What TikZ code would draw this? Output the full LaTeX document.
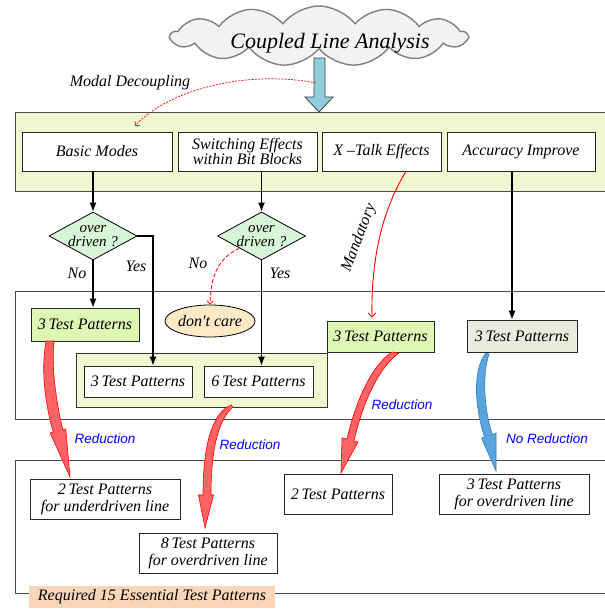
\documentclass[tikz,border=0pt]{standalone}
\usepackage{fontspec}
\setmainfont{Liberation Serif}
\newfontfamily\lsans{Liberation Sans}
\newfontfamily\rawserif{Liberation Serif}[Ligatures=ResetAll]
\usetikzlibrary{shapes.geometric,shapes.symbols,arrows.meta,calc}
\definecolor{panelgreen}{HTML}{F0F8D2}
\definecolor{boxgreen}{HTML}{DEF8B4}
\definecolor{boxgray}{HTML}{E8ECDC}
\definecolor{diagreen}{HTML}{D8F6D8}
\definecolor{careorange}{HTML}{FCEAC6}
\definecolor{peach}{HTML}{FAD6B8}
\definecolor{cloudgray}{HTML}{F3F3F3}
\definecolor{arrowblue}{HTML}{92CDDC}
\definecolor{fatred}{HTML}{FF6363}
\definecolor{fatblue}{HTML}{5AA5DE}
\definecolor{fatblueedge}{HTML}{2F7FC1}
\begin{document}
\begin{tikzpicture}[x=1pt,y=-1pt,
  txt/.style={font=\fontsize{16}{15}\selectfont\itshape},
  wbox/.style={txt, draw=black!85, line width=0.8pt, fill=white, align=center, inner sep=1pt},
  gbox/.style={wbox, fill=boxgreen},
  panel/.style={draw=black!70, line width=0.9pt},
  arr/.style={draw=black, line width=1.1pt, -{Latex[length=9pt,width=7pt]}},
  redarr/.style={draw=red, line width=0.9pt, -{Straight Barb[length=4pt,width=8pt]}},
  bluelab/.style={font=\fontsize{13.5}{14}\selectfont\lsans\itshape, text=blue},
  diam/.style={diamond, draw=black, line width=0.8pt, fill=diagreen, minimum width=88pt, minimum height=48pt, inner sep=0pt, aspect=1.83},
  fatr/.style={fill=fatred, draw=red, line width=0.6pt},
  fatb/.style={fill=fatblue, draw=fatblueedge, line width=0.6pt}
]
\useasboundingbox (0,0) rectangle (604,609);

% panels
\draw[panel, fill=panelgreen] (15,112) rectangle (620,191);
\draw[panel] (15,291) rectangle (620,419);
\draw[panel] (15,460) rectangle (620,593);
\draw[panel, fill=panelgreen, draw=black!80] (76,353) rectangle (327,407);

% big blue arrow and cloud
\draw[fill=arrowblue, draw=black!75, line width=0.8pt] (314,58) -- (325,58) -- (325,97) -- (333,97) -- (319,112) -- (305,97) -- (314,97) -- cycle;
\coordinate (md) at (316,83);
\node[cloud, cloud puffs=13, cloud puff arc=105, aspect=4.8, draw=gray, fill=cloudgray, line width=1.4pt,
  minimum width=296pt, minimum height=60pt, inner sep=0pt,
  label={[font=\fontsize{22}{24}\selectfont\itshape, xshift=11pt, yshift=-7pt]center:Coupled Line Analysis}] (cla) at (319,36) {};

\node[txt] (mdl) at (130,83) {Modal Decoupling};
\draw[red, dash pattern=on 2pt off 1.3pt, line width=0.7pt, -{Straight Barb[length=3pt,width=6pt]}] (md) .. controls (250,70) and (170,88) .. (135,126);

% top boxes
\node[wbox, minimum width=150pt, minimum height=39pt] (bm) at (97,151.5) {Basic Modes};
\node[wbox, minimum width=139pt, minimum height=39pt] (sw) at (247.5,151.5) {Switching Effects\\within Bit Blocks};
\node[wbox, minimum width=119pt, minimum height=39pt] (xt) at (381.5,151.5) {X –Talk Effects};
\node[wbox, minimum width=148pt, minimum height=39pt] (acc) at (521,151.5) {Accuracy Improve};

% diamonds
\node[diam, label={[txt, align=center, font=\fontsize{15}{14}\selectfont\itshape]center:over\\driven ?}] (d1) at (93,236) {};
\node[diam, label={[txt, align=center, font=\fontsize{15}{14}\selectfont\itshape]center:over\\driven ?}] (d2) at (261.5,236) {};

% second panel boxes
\node[gbox, minimum width=108pt, minimum height=33pt] (g1) at (85,324.5) {3\,Test Patterns};
\node[ellipse, draw=black, line width=0.8pt, fill=careorange, minimum width=81pt, minimum height=32pt, inner sep=0pt, font=\fontsize{16}{15}\selectfont\rawserif\itshape] (dc) at (210,321) {don't care};
\node[wbox, minimum width=108pt, minimum height=31pt] (b3) at (138,381.5) {3\,Test Patterns};
\node[wbox, minimum width=109pt, minimum height=31pt] (b6) at (258.5,381.5) {6\,Test Patterns};
\node[gbox, minimum width=107pt, minimum height=31pt] (g2) at (380.5,336.5) {3\,Test Patterns};
\node[wbox, fill=boxgray, minimum width=110pt, minimum height=32pt] (gy) at (522,336) {3\,Test Patterns};

% third panel boxes
\node[wbox, minimum width=150pt, minimum height=40pt, font=\fontsize{16}{17}\selectfont\itshape] (p2u) at (105,499) {2\,Test Patterns\\for underdriven line};
\node[wbox, minimum width=138pt, minimum height=40pt, font=\fontsize{16}{17}\selectfont\itshape] (p8o) at (208,553) {8\,Test Patterns\\for overdriven line};
\node[wbox, minimum width=108pt, minimum height=40pt] (p2) at (338,494) {2\,Test Patterns};
\node[wbox, minimum width=150pt, minimum height=40pt, font=\fontsize{16}{17}\selectfont\itshape] (p3o) at (514,494) {3\,Test Patterns\\for overdriven line};

\node[txt, fill=peach, minimum width=246pt, minimum height=22pt, inner sep=0pt] (req) at (152,597) {Required 15 Essential Test Patterns};

% connectors
\draw[arr] (bm.south -| d1) -- (d1.north);
\draw[arr] (sw.south -| d2) -- (d2.north);
\draw[arr] (d1.south) -- (g1.north -| d1);
\draw[arr] (d1.east) -| ([xshift=15pt]b3.north);
\draw[arr] (d2.south) -- (b6.north -| d2);
\draw[arr] ([xshift=-9pt]acc.south) -- ([xshift=-10pt]gy.north);
\draw[red, dash pattern=on 4pt off 2pt, line width=0.8pt, -{Straight Barb[length=3pt,width=6pt]}] (d2.south west) .. controls (215,260) and (211,280) .. (dc.north);
\draw[redarr] ([xshift=24.5pt]xt.south) .. controls (381,212) and (371,262) .. ([xshift=-8.5pt, yshift=3pt]g2.north);

% labels
\node[txt] (no1) at (77,273) {No};
\node[txt] (yes1) at (136,266) {Yes};
\node[txt] (no2) at (198,263) {No};
\node[txt] (yes2) at (280,273) {Yes};
\node[txt, rotate=69, inner sep=0pt] (mand) at (359,238) {Mandatory};

\node[bluelab] (r0) at (402,405) {Reduction};
\node[bluelab] (r1) at (105,439) {Reduction};
\node[bluelab] (r2) at (250,445) {Reduction};
\node[bluelab] (r3) at (547,439) {No Reduction};

% fat curved arrows
\draw[fatr] (46,341) .. controls (40,375) and (47,410) .. (53.2,432.2) -- (50.2,433) -- (70,477) -- (65.8,429) -- (62.8,429.8) .. controls (57,405) and (51,370) .. (54,341) -- cycle;
\draw[fatr] (231,405) .. controls (214,412) and (203,440) .. (203,495) -- (198.5,495) -- (205,528) -- (213.5,495) -- (211,495) .. controls (211,450) and (218,420) .. (233,407) -- cycle;
\draw[fatr] (392,352) .. controls (372,365) and (356,400) .. (347,439) -- (342,438) -- (341,473) -- (358,442) -- (354,441) .. controls (362,405) and (378,368) .. (399,353) -- cycle;
\draw[fatb] (486,353) .. controls (473,368) and (474,405) .. (484.5,437) -- (481.5,438) -- (496,471) -- (496,433) -- (492.5,435) .. controls (484,410) and (482,375) .. (489,354) -- cycle;
\end{tikzpicture}
\end{document}
